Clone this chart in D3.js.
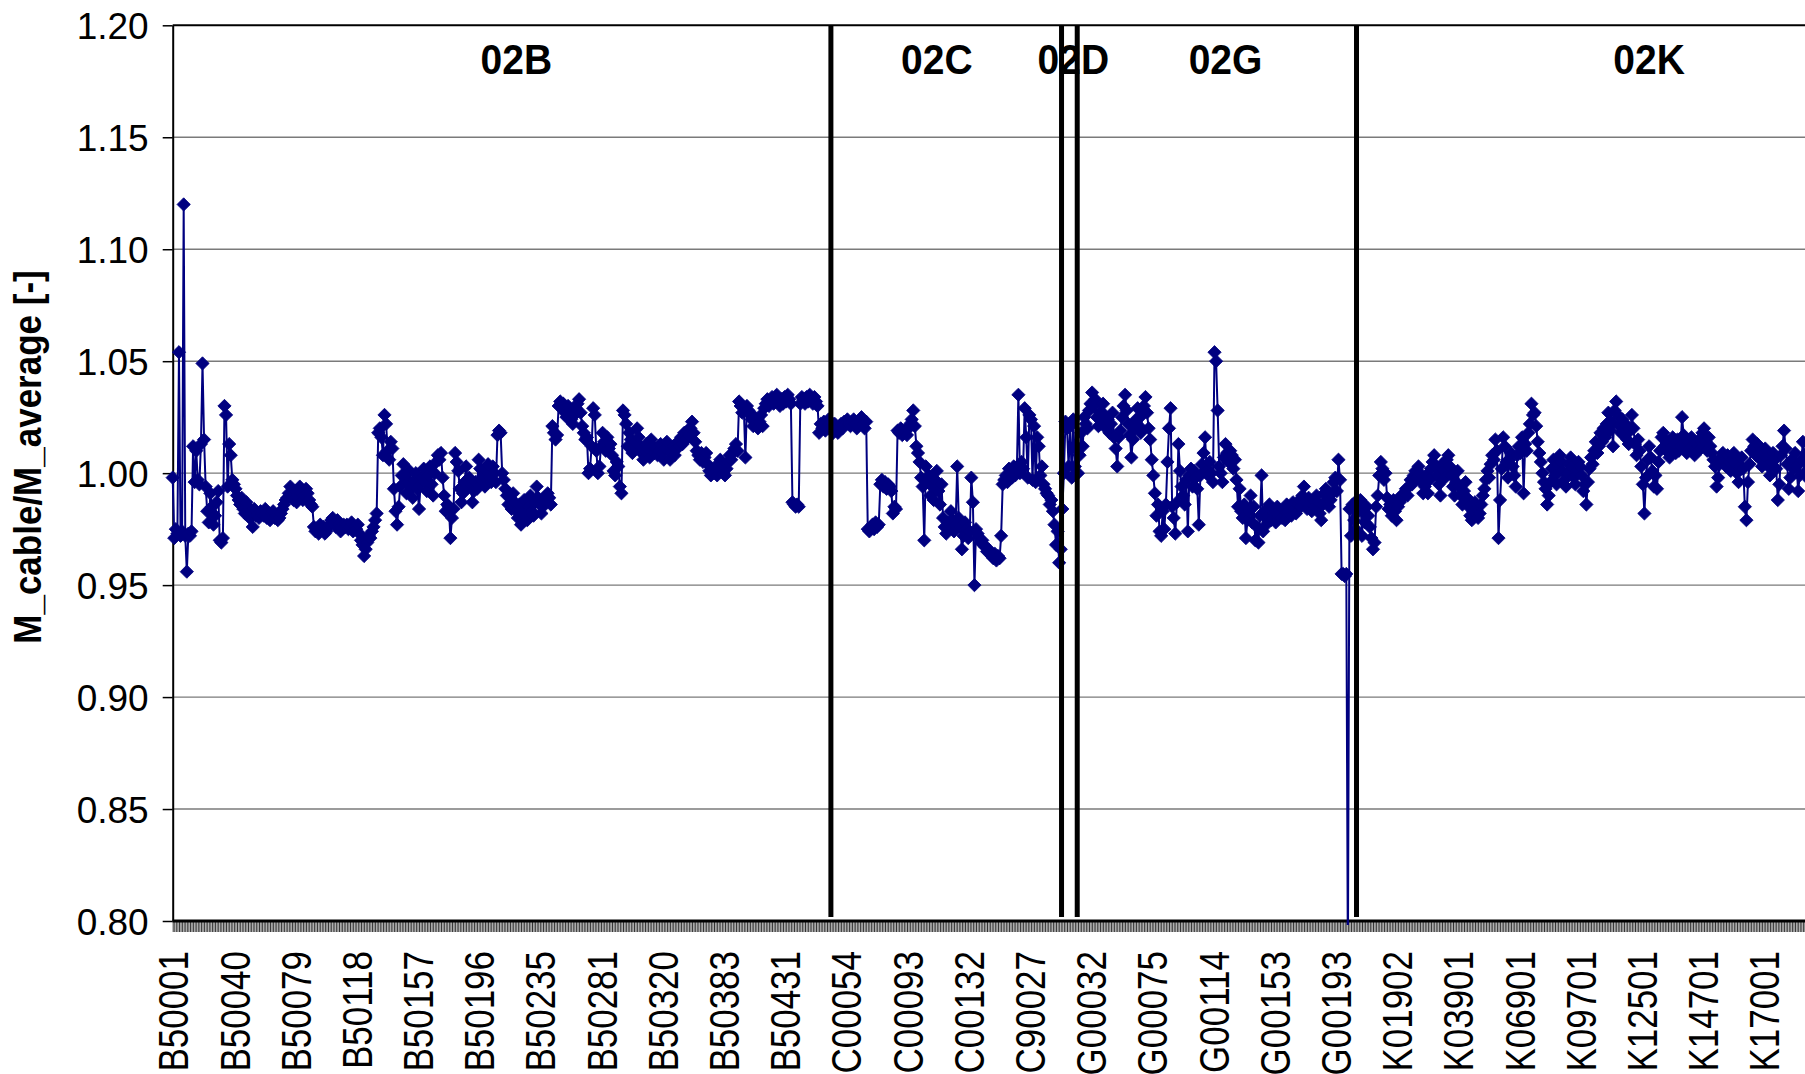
<!DOCTYPE html>
<html>
<head>
<meta charset="utf-8">
<script src="https://cdn.jsdelivr.net/npm/d3@7/dist/d3.min.js"></script>
<style>
  body { margin: 0; background: #fff; }
  text { font-family: "Liberation Sans", Arial, sans-serif; }
</style>
</head>
<body>
<svg id="chart" width="1805" height="1074"></svg>
<script>
// M_cable / M_average per cable, grouped by batch (02B, 02C, 02D, 02G, 02K)

var seg02B = [
  0.998, 0.971, 0.975, 0.973, 1.054, 0.972, 0.974, 1.120, 0.972, 0.956,
  0.973, 0.972, 0.974, 1.012, 0.996, 1.010, 0.997, 0.995, 1.013, 1.049,
  1.015, 0.994, 0.983, 0.978, 0.991, 0.985, 0.977, 0.981, 0.987, 0.992,
  0.970, 0.969, 0.971, 1.030, 1.026, 0.994, 1.013, 1.008, 0.997, 0.995,
  0.993, 0.990, 0.988, 0.986, 0.989, 0.984, 0.982, 0.987, 0.985, 0.980,
  0.983, 0.976, 0.984, 0.981, 0.982, 0.980, 0.983, 0.982, 0.981, 0.984,
  0.980, 0.981, 0.979, 0.982, 0.983, 0.980, 0.981, 0.979, 0.980, 0.982,
  0.984, 0.986, 0.988, 0.989, 0.991, 0.994, 0.990, 0.988, 0.992, 0.987,
  0.989, 0.994, 0.991, 0.988, 0.990, 0.993, 0.991, 0.988, 0.986, 0.985,
  0.976, 0.974, 0.975, 0.973, 0.977, 0.975, 0.976, 0.973, 0.974, 0.976,
  0.977, 0.979, 0.980, 0.978, 0.976, 0.979, 0.977, 0.974, 0.975, 0.977,
  0.976, 0.977, 0.975, 0.976, 0.978, 0.974, 0.976, 0.975, 0.977, 0.973,
  0.970, 0.968, 0.963, 0.966, 0.969, 0.972, 0.971, 0.974, 0.976, 0.979,
  0.982, 1.018, 1.020, 1.016, 1.008, 1.026, 1.022, 1.010, 1.006, 1.014,
  1.011, 0.993, 0.983, 0.977, 0.985, 0.994, 0.999, 1.004, 0.998, 0.991,
  0.996, 1.001, 0.994, 0.989, 0.997, 1.000, 0.993, 0.984, 0.995, 0.998,
  1.002, 0.996, 0.992, 0.999, 1.003, 0.995, 0.990, 1.000, 1.005, 1.008,
  1.006, 1.009, 0.998, 0.990, 0.983, 0.986, 0.985, 0.971, 0.980, 0.984,
  1.009, 1.005, 1.001, 0.993, 0.987, 0.991, 0.996, 1.003, 0.994, 0.998,
  0.995, 0.987, 0.992, 0.996, 0.993, 1.006, 1.002, 0.997, 0.999, 0.994,
  1.001, 1.004, 0.998, 0.996, 1.003, 1.000, 0.996, 1.017, 1.019, 1.018,
  1.000, 0.997, 0.993, 0.990, 0.986, 0.989, 0.984, 0.991, 0.987, 0.983,
  0.980, 0.986, 0.977, 0.982, 0.988, 0.984, 0.979, 0.985, 0.990, 0.983,
  0.981, 0.987, 0.994, 0.989, 0.986, 0.982, 0.985, 0.988, 0.990, 0.991,
  0.989, 0.986, 1.021, 1.018, 1.015, 1.017, 1.030, 1.032, 1.029, 1.031,
  1.027, 1.025, 1.030, 1.028, 1.024, 1.022, 1.026, 1.029, 1.031, 1.033,
  1.027, 1.021, 1.018, 1.015, 1.016, 1.000, 1.002, 1.012, 1.029, 1.026,
  1.010, 1.000, 1.003, 1.012, 1.018, 1.014, 1.010, 1.016, 1.011, 1.013,
  1.008, 1.001, 0.999, 1.005, 1.003, 0.994, 0.991, 1.028, 1.026, 1.022,
  1.012, 1.018, 1.015, 1.009, 1.011, 1.014, 1.020, 1.016, 1.012, 1.009,
  1.006, 1.010, 1.013, 1.011, 1.007, 1.015, 1.012, 1.009, 1.011, 1.008,
  1.010, 1.013, 1.009, 1.006, 1.011, 1.014, 1.010, 1.006, 1.009, 1.012,
  1.008, 1.011, 1.014, 1.012, 1.016, 1.013, 1.018, 1.015, 1.019, 1.017,
  1.020, 1.023, 1.018, 1.014, 1.010, 1.008, 1.006, 1.009, 1.005, 1.007,
  1.009, 1.004, 1.001, 0.999, 1.001, 1.000, 1.003, 0.999, 1.002, 1.006,
  1.004, 1.000, 0.999, 1.002, 1.005, 1.008, 1.006, 1.009, 1.011, 1.013,
  1.010, 1.032, 1.030, 1.027, 1.029, 1.007, 1.030, 1.028, 1.026, 1.024,
  1.021, 1.025, 1.022, 1.020, 1.023, 1.026, 1.021, 1.029, 1.031, 1.033,
  1.030, 1.032, 1.034, 1.031, 1.033, 1.035, 1.032, 1.030, 1.033, 1.031,
  1.034, 1.032, 1.035, 1.033, 1.031, 0.987, 0.986, 0.985, 0.986, 0.985,
  1.031, 1.034, 1.033, 1.031, 1.034, 1.032, 1.035, 1.033, 1.031, 1.034,
  1.032, 1.030, 1.018, 1.022, 1.020, 1.023, 1.019, 1.021, 1.024, 1.022
];

var seg02C = [
  1.020, 1.018, 1.022, 1.019, 1.018, 1.021, 1.022, 1.020, 1.023, 1.022,
  1.024, 1.022, 1.021, 1.023, 1.024, 1.022, 1.020, 1.021, 1.023, 1.025,
  1.022, 1.020, 1.023, 0.975, 0.974, 0.976, 0.977, 0.975, 0.978, 0.976,
  0.977, 0.995, 0.997, 0.994, 0.996, 0.993, 0.995, 0.994, 0.992, 0.982,
  0.985, 0.984, 1.019, 1.018, 1.020, 1.017, 1.018, 1.019, 1.017, 1.020,
  1.022, 1.024, 1.028, 1.021, 1.012, 1.009, 1.005, 0.998, 0.994, 0.970,
  1.003, 0.996, 0.999, 0.990, 0.994, 0.988, 0.997, 1.001, 0.992, 0.986,
  0.995, 0.980, 0.976, 0.973, 0.978, 0.975, 0.983, 0.979, 0.974, 0.977,
  1.003, 0.980, 0.976, 0.966, 0.972, 0.978, 0.975, 0.971, 0.974, 0.998,
  0.987, 0.950, 0.975, 0.973, 0.971, 0.969, 0.970, 0.968, 0.967, 0.965,
  0.966, 0.964, 0.963, 0.962, 0.964, 0.961, 0.963, 0.962, 0.972, 0.995,
  0.997, 0.999, 0.996, 1.002, 1.000, 0.998, 1.003, 0.999, 1.001, 1.035,
  1.000, 1.005, 1.002, 1.029, 1.016, 0.998, 1.026, 1.024, 0.997, 1.021,
  0.996, 1.016, 1.012, 0.999, 1.003, 0.995, 0.993, 0.991, 0.990, 0.986,
  0.988, 0.983, 0.977, 0.968, 0.974, 0.960, 0.966
];

var seg02D = [
  0.984, 1.000, 1.023, 1.020, 1.003, 1.021, 0.998, 1.024, 1.003, 1.000
];

var seg02G = [
  1.000, 1.008, 1.018, 1.012, 1.025, 1.022, 1.020, 1.028, 1.031, 1.036,
  1.030, 1.033, 1.025, 1.021, 1.027, 1.023, 1.031, 1.026, 1.020, 1.024,
  1.018, 1.022, 1.027, 1.016, 1.011, 1.003, 1.016, 1.019, 1.025, 1.030,
  1.035, 1.028, 1.022, 1.017, 1.007, 1.015, 1.020, 1.024, 1.029, 1.021,
  1.018, 1.026, 1.030, 1.034, 1.027, 1.020, 1.015, 1.006, 0.999, 0.991,
  0.981, 0.986, 0.974, 0.972, 0.983, 0.975, 0.986, 1.005, 1.020, 1.029,
  0.985, 0.980, 0.973, 0.987, 1.013, 1.001, 0.994, 0.990, 0.986, 0.997,
  0.974, 0.999, 1.002, 0.994, 1.001, 0.998, 0.993, 0.977, 0.999, 1.004,
  1.009, 1.016, 1.001, 0.999, 1.005, 1.000, 0.996, 1.054, 1.050, 1.028,
  1.003, 1.000, 0.996, 1.007, 1.013, 1.009, 1.005, 1.010, 1.008, 1.002,
  1.006, 0.997, 0.985, 0.993, 0.983, 0.980, 0.986, 0.971, 0.979, 0.983,
  0.990, 0.978, 0.985, 0.970, 0.976, 0.969, 0.981, 0.999, 0.974, 0.983,
  0.977, 0.981, 0.986, 0.979, 0.984, 0.982, 0.978, 0.985, 0.981, 0.983,
  0.980, 0.984, 0.979, 0.986, 0.983, 0.985, 0.981, 0.987, 0.984, 0.982,
  0.986, 0.988, 0.985, 0.990, 0.994, 0.987, 0.984, 0.989, 0.986, 0.983,
  0.988, 0.985, 0.990, 0.987, 0.982, 0.979, 0.986, 0.991, 0.993, 0.989,
  0.985, 0.988, 0.991, 0.996, 0.998, 0.992, 1.006, 0.997, 0.955, 0.955,
  0.954, 0.955, 0.780, 0.984, 0.972, 0.986, 0.979, 0.975
];

var seg02K = [
  0.988, 0.983, 0.988, 0.972, 0.983, 0.978, 0.985, 0.981, 0.976, 0.971,
  0.966, 0.969, 0.985, 0.990, 0.999, 1.005, 1.002, 0.997, 1.000, 0.989,
  0.984, 0.986, 0.981, 0.988, 0.983, 0.979, 0.985, 0.987, 0.990, 0.989,
  0.991, 0.993, 0.990, 0.994, 0.997, 0.995, 0.999, 1.001, 0.998, 1.003,
  1.000, 0.996, 0.991, 0.994, 0.999, 0.991, 0.997, 1.002, 1.005, 1.008,
  1.003, 0.999, 0.995, 0.990, 1.004, 1.001, 0.998, 1.006, 1.008, 1.003,
  0.999, 0.994, 0.990, 0.996, 1.001, 0.994, 0.990, 0.986, 0.992, 0.996,
  0.989, 0.985, 0.981, 0.979, 0.983, 0.987, 0.984, 0.980, 0.982, 0.986,
  0.990, 0.993, 0.997, 1.001, 0.998, 1.004, 1.008, 1.006, 1.015, 1.010,
  0.971, 0.988, 1.002, 1.016, 1.012, 1.005, 0.998, 1.006, 1.009, 1.003,
  0.999, 0.994, 1.008, 1.012, 1.009, 1.016, 0.991, 1.013, 1.010, 1.018,
  1.022, 1.031, 1.026, 1.027, 1.021, 1.014, 1.009, 1.005, 1.000, 0.996,
  0.993, 0.986, 0.990, 0.996, 1.002, 1.006, 0.999, 0.995, 1.004, 1.008,
  1.005, 1.001, 0.997, 0.994, 1.000, 1.004, 1.007, 1.003, 0.998, 0.995,
  1.001, 1.005, 1.003, 0.999, 0.992, 0.995, 0.986, 0.996, 1.002, 1.007,
  1.004, 1.010, 1.014, 1.009, 1.012, 1.018, 1.014, 1.020, 1.016, 1.022,
  1.027, 1.019, 1.023, 1.012, 1.028, 1.032, 1.026, 1.021, 1.018, 1.024,
  1.017, 1.022, 1.015, 1.013, 1.019, 1.026, 1.020, 1.013, 1.008, 1.015,
  1.010, 1.003, 0.995, 0.982, 0.998, 1.006, 1.012, 1.007, 1.001, 0.994,
  0.999, 0.993, 1.005, 1.010, 1.016, 1.018, 1.012, 1.010, 1.014, 1.007,
  1.011, 1.016, 1.013, 1.009, 1.015, 1.010, 1.012, 1.025, 1.017, 1.013,
  1.009, 1.014, 1.011, 1.016, 1.012, 1.008, 1.013, 1.010, 1.015, 1.011,
  1.018, 1.020, 1.014, 1.010, 1.016, 1.012, 1.009, 1.006, 1.003, 0.994,
  0.998, 1.004, 1.007, 1.009, 1.006, 1.003, 1.008, 1.005, 1.001, 1.006,
  1.009, 1.004, 1.000, 0.996, 1.003, 1.007, 1.002, 0.985, 0.979, 0.996,
  1.004, 1.010, 1.015, 1.012, 1.008, 1.013, 1.009, 1.006, 1.003, 1.008,
  1.011, 1.007, 1.003, 0.999, 1.005, 1.009, 1.006, 1.002, 0.988, 0.995,
  1.008, 1.012, 1.019, 1.011, 1.004, 0.993, 0.998, 1.006, 1.002, 1.009,
  1.003, 0.992, 0.999, 1.006, 1.014, 1.000, 1.009, 1.004, 0.997, 1.002
];

var segNames = ["02B", "02C", "02D", "02G", "02K"];
// cable index under each batch label
var segLabelIdx = [219, 487, 574, 671, 941];

// one label every 39 cables
var tickLabels = [
  "B50001", "B50040", "B50079", "B50118", "B50157", "B50196", "B50235",
  "B50281", "B50320", "B50383", "B50431", "C00054", "C00093", "C00132",
  "C90027", "G00032", "G00075", "G00114", "G00153", "G00193", "K01902",
  "K03901", "K06901", "K09701", "K12501", "K14701", "K17001"
];
var labelEvery = 39;

var yTicks = [0.80, 0.85, 0.90, 0.95, 1.00, 1.05, 1.10, 1.15, 1.20];

// ---- build the flat series ----
var segValues = [seg02B, seg02C, seg02D, seg02G, seg02K];
var points = [];
var segStarts = [];
segValues.forEach(function(vals) {
  segStarts.push(points.length);
  vals.forEach(function(v) {
    points.push({ i: points.length, v: v });
  });
});
var N = points.length;

var svg = d3.select("#chart");
var plotLeft = 172.7, plotTop = 25.3, plotBottom = 921, step = 1.569;

var x = d3.scaleLinear().domain([0, N - 1]).range([plotLeft, plotLeft + (N - 1) * step]);
var y = d3.scaleLinear().domain([0.8, 1.2]).range([plotBottom, plotTop]);

svg.append("rect").attr("width", 1805).attr("height", 1074).attr("fill", "#fff");

// gridlines
svg.append("g").selectAll("line")
  .data(yTicks.filter(function(t) { return t > 0.8 && t < 1.2; }))
  .enter().append("line")
  .attr("x1", plotLeft).attr("x2", 1805)
  .attr("y1", function(d) { return y(d); })
  .attr("y2", function(d) { return y(d); })
  .style("stroke", "#7a7a7a")
  .style("stroke-width", 1.4);

// top border
svg.append("line")
  .attr("x1", plotLeft).attr("x2", 1805)
  .attr("y1", plotTop).attr("y2", plotTop)
  .style("stroke", "#000").style("stroke-width", 2);

// y axis
var yAxis = svg.append("g")
  .attr("transform", "translate(" + plotLeft + ",0)")
  .call(d3.axisLeft(y).tickValues(yTicks).tickFormat(d3.format(".2f")).tickSize(10).tickSizeOuter(0));
yAxis.select(".domain").style("stroke", "#000").style("stroke-width", 2);
yAxis.selectAll(".tick line").style("stroke", "#000").style("stroke-width", 1.5);
yAxis.selectAll(".tick text")
  .attr("x", -24)
  .attr("dy", "0.36em")
  .style("font-size", "37px")
  .style("font-family", '"Liberation Sans", Arial, sans-serif')
  .style("fill", "#000");

// x axis: a tick for every cable, a label every 39th
var xAxis = svg.append("g")
  .attr("transform", "translate(0," + plotBottom + ")")
  .call(d3.axisBottom(x)
    .tickValues(d3.range(N))
    .tickSize(11)
    .tickSizeOuter(0)
    .tickFormat(function(i) { return i % labelEvery === 0 ? (tickLabels[i / labelEvery] || "") : ""; }));
xAxis.select(".domain").style("stroke", "#000").style("stroke-width", 3)
  .attr("d", "M" + plotLeft + ",0H1805");
xAxis.selectAll(".tick line").style("stroke", "#000").style("stroke-width", 0.8);
xAxis.selectAll(".tick text")
  .attr("transform", "rotate(-90) scale(1,1.2)")
  .attr("text-anchor", "end")
  .attr("x", -30)
  .attr("y", 0)
  .attr("dy", "0.36em")
  .style("font-size", "35px")
  .style("font-family", '"Liberation Sans", Arial, sans-serif')
  .style("fill", "#000");

// y title
svg.append("text")
  .attr("transform", "translate(41,457) rotate(-90) scale(1,1.1)")
  .attr("text-anchor", "middle")
  .style("font-size", "35px")
  .style("font-weight", "bold")
  .text("M_cable/M_average [-]");

// data
svg.append("clipPath").attr("id", "plotclip")
  .append("rect").attr("x", plotLeft - 8).attr("y", plotTop - 8)
  .attr("width", 1805).attr("height", plotBottom - plotTop + 12);

var plot = svg.append("g").attr("clip-path", "url(#plotclip)");

var line = d3.line()
  .x(function(d) { return x(d.i); })
  .y(function(d) { return y(d.v); });

plot.append("path")
  .datum(points)
  .attr("d", line)
  .style("fill", "none")
  .style("stroke", "#000080")
  .style("stroke-width", 2);

var diamond = d3.symbol().type(d3.symbolSquare).size(88);
plot.selectAll(".pt").data(points)
  .enter().append("path")
  .attr("class", "pt")
  .attr("d", diamond)
  .attr("transform", function(d) {
    return "translate(" + x(d.i) + "," + y(d.v) + ") rotate(45)";
  })
  .style("fill", "#000080")
  .style("stroke", "#000080")
  .style("stroke-width", 0.8);

// batch separators
svg.append("g").selectAll("line")
  .data(segStarts.slice(1))
  .enter().append("line")
  .attr("x1", function(s) { return x(s - 0.5); })
  .attr("x2", function(s) { return x(s - 0.5); })
  .attr("y1", plotTop)
  .attr("y2", plotBottom - 4)
  .style("stroke", "#000")
  .style("stroke-width", 5);

// batch labels
svg.append("g").selectAll("text")
  .data(segNames)
  .enter().append("text")
  .attr("x", function(d, k) { return x(segLabelIdx[k]); })
  .attr("y", 74)
  .attr("text-anchor", "middle")
  .attr("transform", function(d, k) {
    var cx = x(segLabelIdx[k]);
    return "translate(" + cx + ",0) scale(1,1.1) translate(" + (-cx) + ",-6.7)";
  })
  .style("font-size", "39px")
  .style("font-weight", "bold")
  .text(function(d) { return d; });
</script>
</body>
</html>
